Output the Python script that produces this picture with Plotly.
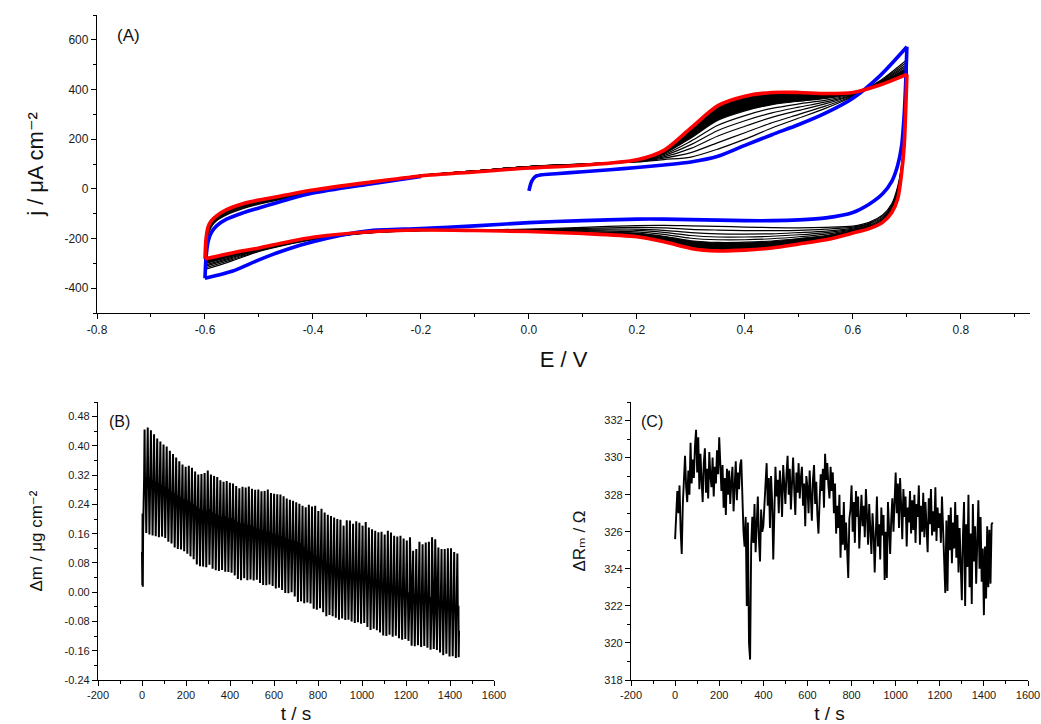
import plotly.graph_objects as go

W, H = 1041, 724
FONT = "Liberation Sans, Arial, DejaVu Sans, sans-serif"

# ---------------- Panel A : cyclic voltammograms ----------------
E_FWD = [-0.6, -0.598, -0.594, -0.588, -0.578, -0.56, -0.53, -0.5, -0.45, -0.4, -0.3, -0.2, -0.1,
         0.0, 0.1, 0.2, 0.25, 0.3, 0.35, 0.4, 0.45, 0.5, 0.55, 0.6, 0.65, 0.7]
E_REV = [0.7, 0.698, 0.695, 0.69, 0.683, 0.672, 0.655, 0.63, 0.6, 0.55, 0.5, 0.45, 0.4, 0.35, 0.3,
         0.25, 0.2, 0.1, 0.0, -0.1, -0.2, -0.3, -0.4, -0.45, -0.5, -0.55, -0.6]

RED_FWD = [-282, -200, -152, -128, -108, -84, -60, -45, -25, -5, 25, 52, 68, 84, 95, 117, 155, 245,
           335, 373, 388, 388, 384, 388, 418, 461]
RED_REV = [461, 330, 175, 60, -40, -95, -135, -160, -178, -205, -222, -238, -247, -250, -240, -213,
           -193, -180, -172, -168, -166, -174, -195, -215, -238, -258, -282]

BLUE_E1 = [0.0, 0.005, 0.012, 0.025, 0.05, 0.1, 0.15, 0.2, 0.25, 0.3, 0.35, 0.4, 0.45, 0.5, 0.55,
           0.6, 0.65, 0.7]
BLUE_J1 = [-8, 30, 50, 57, 61, 69, 77, 86, 96, 108, 131, 175, 218, 259, 306, 365, 455, 572]
BLUE_REV = [572, 440, 300, 170, 95, 30, -20, -62, -95, -117, -125, -128, -128, -126, -124, -122,
            -122, -128, -136, -149, -160, -170, -213, -245, -286, -332, -360]
BLUE_J3 = [-360, -275, -210, -175, -148, -122, -97, -77, -45, -17, 18, 50]  # on E_FWD[:12]

CYC2_FWD = [-325, -240, -185, -152, -128, -105, -80, -62, -38, -15, 20, 54, 72, 90, 100, 108, 118,
            128, 160, 200, 245, 285, 325, 372, 435, 520]
CYC3_FWD = [-319, -234, -180, -148, -125, -102, -77, -59, -36, -14, 21, 54, 72, 90, 100, 109, 124,
            146, 186, 226, 266, 300, 334, 374, 432, 511]
CYC4_FWD = [-312, -228, -175, -145, -122, -99, -74, -57, -34, -12, 22, 54, 72, 90, 100, 111, 129,
            163, 213, 252, 288, 316, 343, 377, 430, 502]
CYC5_FWD = [-307, -223, -171, -142, -119, -96, -71, -55, -32, -11, 22, 54, 72, 90, 100, 112, 134,
            178, 235, 274, 306, 329, 350, 379, 428, 495]
CYC6_FWD = [-301, -218, -167, -139, -117, -93, -69, -53, -31, -10, 23, 54, 72, 90, 100, 113, 138,
            192, 256, 295, 324, 342, 357, 381, 426, 488]
CYC7_FWD = [-297, -214, -163, -136, -115, -91, -67, -51, -29, -8, 23, 54, 72, 90, 100, 114, 142,
            205, 276, 314, 339, 353, 364, 383, 424, 481]

CYC2_REV = [520, 380, 220, 95, 10, -60, -105, -135, -150, -155, -157, -156, -154, -151, -149, -147,
            -148, -155, -162, -166, -168, -178, -205, -226, -252, -290, -325]
CYC3_REV = [511, 372, 213, 90, 2, -65, -109, -139, -154, -162, -167, -168, -168, -166, -163, -157,
            -155, -159, -164, -166, -168, -177, -204, -224, -250, -285, -319]
CYC4_REV = [502, 365, 206, 84, -5, -70, -114, -142, -158, -170, -176, -181, -182, -181, -176, -167,
            -162, -163, -165, -167, -167, -177, -202, -223, -248, -280, -312]
CYC5_REV = [495, 358, 201, 80, -11, -75, -118, -146, -162, -176, -185, -191, -194, -194, -188, -175,
            -167, -166, -166, -167, -167, -176, -201, -221, -246, -276, -307]
CYC6_REV = [488, 352, 195, 76, -17, -79, -121, -149, -165, -182, -193, -201, -205, -205, -199, -183,
            -173, -169, -168, -167, -167, -176, -200, -220, -244, -272, -301]
CYC7_REV = [481, 347, 190, 72, -23, -83, -125, -152, -168, -188, -200, -210, -215, -216, -209, -191,
            -178, -172, -169, -167, -167, -175, -198, -219, -243, -269, -297]

# ---------------- Panel B : mass change (per CV cycle) ----------------
B_T_START = [0.0, 0.8, 1.6, 2.6, 3.6]
B_M_START = [0.11, 0.025, 0.02, 0.215, 0.015]
B_CYCLE_T0 = 5.0
B_PERIOD = 14.36
B_PEAK = [0.445, 0.450, 0.443, 0.432, 0.420, 0.412, 0.404, 0.398, 0.387, 0.378,
          0.368, 0.358, 0.349, 0.343, 0.346, 0.340, 0.330, 0.322, 0.323, 0.326,
          0.333, 0.322, 0.318, 0.315, 0.306, 0.302, 0.304, 0.299, 0.297, 0.290,
          0.284, 0.288, 0.286, 0.289, 0.283, 0.280, 0.281, 0.276, 0.277, 0.281,
          0.271, 0.269, 0.268, 0.267, 0.262, 0.256, 0.253, 0.250, 0.246, 0.242,
          0.236, 0.232, 0.239, 0.234, 0.236, 0.222, 0.228, 0.218, 0.212, 0.208,
          0.204, 0.200, 0.198, 0.182, 0.197, 0.196, 0.187, 0.194, 0.190, 0.182,
          0.192, 0.177, 0.172, 0.168, 0.164, 0.165, 0.158, 0.168, 0.163, 0.154,
          0.152, 0.154, 0.147, 0.141, 0.150, 0.113, 0.118, 0.138, 0.131, 0.136,
          0.138, 0.150, 0.145, 0.122, 0.118, 0.118, 0.120, 0.120, 0.110, 0.106]
B_PLATEAU = [0.31, 0.31, 0.305, 0.30, 0.295, 0.29, 0.285, 0.28, 0.272, 0.268,
             0.262, 0.258, 0.252, 0.248, 0.244, 0.238, 0.232, 0.226, 0.222, 0.22,
             0.224, 0.216, 0.212, 0.208, 0.204, 0.205, 0.20, 0.20, 0.196, 0.19,
             0.186, 0.185, 0.182, 0.18, 0.176, 0.172, 0.17, 0.166, 0.163, 0.162,
             0.158, 0.155, 0.152, 0.15, 0.146, 0.142, 0.14, 0.138, 0.135, 0.132,
             0.12, 0.11, 0.108, 0.10, 0.095, 0.09, 0.085, 0.078, 0.07, 0.066,
             0.06, 0.058, 0.055, 0.052, 0.05, 0.048, 0.046, 0.045, 0.044, 0.043,
             0.043, 0.038, 0.033, 0.03, 0.027, 0.022, 0.018, 0.015, 0.012, 0.008,
             0.005, 0.002, 0.0, -0.003, -0.006, -0.008, -0.01, -0.012, -0.013, -0.014,
             -0.015, -0.018, -0.02, -0.024, -0.028, -0.03, -0.033, -0.036, -0.038, -0.04]
B_TROUGH = [0.165, 0.162, 0.158, 0.155, 0.153, 0.150, 0.152, 0.148, 0.138, 0.133,
            0.122, 0.118, 0.117, 0.112, 0.105, 0.098, 0.090, 0.076, 0.071, 0.070,
            0.068, 0.075, 0.064, 0.060, 0.058, 0.061, 0.056, 0.055, 0.053, 0.046,
            0.036, 0.033, 0.038, 0.033, 0.035, 0.032, 0.034, 0.025, 0.020, 0.019,
            0.021, 0.017, 0.010, 0.012, 0.006, -0.002, -0.003, 0.000, -0.012, -0.027,
            -0.025, -0.030, -0.028, -0.031, -0.045, -0.048, -0.044, -0.055, -0.066, -0.062,
            -0.066, -0.070, -0.075, -0.072, -0.076, -0.075, -0.080, -0.084, -0.082, -0.086,
            -0.084, -0.095, -0.103, -0.100, -0.104, -0.110, -0.118, -0.120, -0.116, -0.122,
            -0.119, -0.126, -0.130, -0.128, -0.133, -0.146, -0.148, -0.145, -0.150, -0.147,
            -0.152, -0.157, -0.155, -0.158, -0.165, -0.172, -0.168, -0.176, -0.175, -0.180]
B_T_END = [1439.5, 1441.0]
B_M_END = [-0.178, -0.105]

# ---------------- Panel C : motional resistance ----------------
C_T_STEP = 5
C_R = [
    325.6, 326.8, 328.2, 327.0, 328.5, 326.1, 324.8, 327.5, 329.0, 330.1, 328.4, 327.6, 329.3, 328.0, 330.8, 328.6, 329.9, 328.9, 330.6, 331.5,
    329.2, 331.1, 328.3, 330.2, 328.8, 327.6, 329.7, 330.5, 328.1, 329.4, 327.8, 330.3, 329.0, 328.4, 330.0, 327.9, 329.5, 328.6, 330.4, 329.1,
    331.1, 329.0, 328.2, 329.6, 327.3, 328.9, 326.9, 329.4, 328.0, 329.3, 327.5, 328.7, 329.5, 327.1, 328.6, 329.8, 327.7, 329.2, 328.3, 329.6,
    329.9, 327.8, 326.0, 325.2, 326.8, 322.0, 326.5, 320.0, 319.1, 325.3, 326.8, 325.4, 327.5, 324.9, 326.1, 327.9, 325.6, 324.4, 327.2, 326.0,
    326.3, 327.8, 328.6, 329.7, 327.4, 328.9, 326.2, 329.0, 327.6, 324.5, 328.2, 329.5, 327.9, 328.8, 327.0, 329.3, 328.4, 326.8, 329.6, 328.2,
    327.5, 329.1, 330.1, 328.0, 329.4, 327.2, 328.7, 330.0, 328.3, 326.9, 329.2, 328.1, 329.7, 327.8, 328.9, 329.5, 327.4, 328.6, 326.3, 329.0,
    328.4, 327.0, 329.3, 328.1, 326.6, 328.8, 329.6, 327.5, 328.7, 326.9, 325.9, 327.6, 329.1, 328.2, 329.4, 327.3, 330.2, 328.8, 329.7, 328.5,
    327.8, 329.5, 328.2, 329.2, 327.0, 328.6, 325.9, 327.4, 326.2, 328.0, 324.6, 326.9, 325.3, 327.6, 325.0, 326.5, 324.8, 323.5, 326.7, 327.2,
    328.5, 326.0, 327.6, 325.4, 328.2, 326.8, 327.9, 325.1, 326.6, 328.0, 326.3, 327.4, 325.7, 328.3, 326.9, 325.3, 327.5, 326.1, 324.8, 327.0,
    325.9, 323.8, 326.8, 327.9, 325.2, 326.4, 324.5, 327.3, 325.8, 326.9, 323.4, 326.0, 323.5, 327.6, 326.2, 324.8, 326.7, 327.8, 326.0, 328.1,
    329.2, 327.0, 328.6, 326.2, 328.9, 327.4, 325.6, 328.3, 326.8, 327.9, 325.2, 327.3, 326.5, 328.2, 325.9, 327.7, 326.1, 328.0, 325.4, 327.5,
    326.8, 328.5, 325.3, 327.4, 326.0, 328.1, 325.7, 327.6, 326.3, 324.9, 327.8, 326.4, 328.3, 325.8, 327.1, 326.0, 328.4, 325.5, 327.3, 326.2,
    327.0, 325.4, 327.9, 326.0, 324.3, 322.7, 326.6, 322.8, 326.9, 325.0, 327.3, 324.3, 326.5, 325.1, 327.6, 324.6, 326.9, 323.8, 326.2, 324.4,
    322.3, 325.8, 327.6, 322.0, 326.4, 324.1, 328.0, 323.0, 325.9, 322.1, 327.5, 324.4, 326.3, 323.2, 325.6, 327.7, 324.0, 326.8, 323.3, 325.1,
    321.5, 325.2, 322.4, 326.3, 323.0, 326.1, 323.2, 326.4, 326.5,
]

# ---------------- tick values / labels ----------------
A_X_TICKS = [-0.8, -0.6, -0.4, -0.2, 0.0, 0.2, 0.4, 0.6, 0.8]
A_X_LABELS = ["-0.8", "-0.6", "-0.4", "-0.2", "0.0", "0.2", "0.4", "0.6", "0.8"]
A_Y_TICKS = [-400, -200, 0, 200, 400, 600]
A_Y_LABELS = ["-400", "-200", "0", "200", "400", "600"]
T_TICKS = [-200, 0, 200, 400, 600, 800, 1000, 1200, 1400, 1600]
T_LABELS = ["-200", "0", "200", "400", "600", "800", "1000", "1200", "1400", "1600"]
B_Y_TICKS = [-0.24, -0.16, -0.08, 0.0, 0.08, 0.16, 0.24, 0.32, 0.40, 0.48]
B_Y_LABELS = ["-0.24", "-0.16", "-0.08", "0.00", "0.08", "0.16", "0.24", "0.32", "0.40", "0.48"]
C_Y_TICKS = [318, 320, 322, 324, 326, 328, 330, 332]
C_Y_LABELS = ["318", "320", "322", "324", "326", "328", "330", "332"]

# ================= build figure =================
fig = go.Figure()

BLACK_FWD = [CYC2_FWD, CYC3_FWD, CYC4_FWD, CYC5_FWD, CYC6_FWD, CYC7_FWD]
BLACK_REV = [CYC2_REV, CYC3_REV, CYC4_REV, CYC5_REV, CYC6_REV, CYC7_REV]


def line(x, y, color, width, xa="x", ya="y", shape="spline"):
    fig.add_trace(go.Scatter(x=x, y=y, mode="lines", xaxis=xa, yaxis=ya,
                             line=dict(color=color, width=width, shape=shape, smoothing=0.8),
                             showlegend=False, hoverinfo="skip"))


# dense black band between the last black cycle and the red cycle
fig.add_trace(go.Scatter(x=E_FWD + E_FWD[::-1], y=CYC7_FWD + RED_FWD[::-1], mode="lines",
                         fill="toself", fillcolor="black",
                         line=dict(width=0, shape="spline", smoothing=0.8),
                         showlegend=False, hoverinfo="skip"))
fig.add_trace(go.Scatter(x=E_REV + E_REV[::-1], y=CYC7_REV + RED_REV[::-1], mode="lines",
                         fill="toself", fillcolor="black",
                         line=dict(width=0, shape="spline", smoothing=0.8),
                         showlegend=False, hoverinfo="skip"))
for yf, yr in zip(BLACK_FWD, BLACK_REV):
    line(E_FWD, yf, "black", 1.2)
    line(E_REV, yr, "black", 1.2)

line(BLUE_E1, BLUE_J1, "#0000ff", 3.6)
line(E_REV, BLUE_REV, "#0000ff", 3.6)
line(E_FWD[:len(BLUE_J3)], BLUE_J3, "#0000ff", 3.6)
line(E_FWD, RED_FWD, "#ff0000", 3.6)
line(E_REV, RED_REV, "#ff0000", 3.6)

# Panel B
t_b = list(B_T_START)
m_b = list(B_M_START)
for i in range(len(B_PEAK)):
    t0 = B_CYCLE_T0 + i * B_PERIOD
    t_b += [t0, t0 + 0.32 * B_PERIOD, t0 + 0.47 * B_PERIOD, t0 + 0.60 * B_PERIOD, t0 + 0.82 * B_PERIOD]
    m_b += [B_TROUGH[i], B_PLATEAU[i], B_PEAK[i], B_PLATEAU[i], B_PLATEAU[i]]
t_b += B_T_END
m_b += B_M_END
line(t_b, m_b, "black", 2.0, "x2", "y2", "linear")

# Panel C
t_c = [i * C_T_STEP for i in range(len(C_R))]
line(t_c, C_R, "black", 1.9, "x3", "y3", "linear")


def px(x):
    return x / W


def py(y):
    return 1 - y / H


def axis(domain, rng, tickvals, ticktext, minor_tick0, minor_dtick, anchor, tsize, title, tfont, standoff):
    return dict(domain=domain, range=rng, tickmode="array", tickvals=tickvals, ticktext=ticktext,
                anchor=anchor, showline=True, linecolor="black", linewidth=1.3, mirror=False,
                showgrid=False, zeroline=False, ticks="outside", ticklen=5, tickwidth=1.1,
                tickcolor="black", tickfont=dict(family=FONT, size=tsize, color="#1a1a1a"),
                minor=dict(tickmode="linear", tick0=minor_tick0, dtick=minor_dtick, ticklen=3,
                           ticks="outside", tickcolor="black", tickwidth=1, showgrid=False),
                title=dict(text=title, font=dict(family=FONT, size=tfont, color="#111111"),
                           standoff=standoff),
                automargin=False)


fig.update_layout(
    width=W, height=H, margin=dict(l=0, r=0, t=0, b=0),
    paper_bgcolor="white", plot_bgcolor="white", showlegend=False,
    xaxis=axis([px(97), px(1030)], [-0.8, 0.928], A_X_TICKS, A_X_LABELS, -0.8, 0.1, "y", 12,
               "E / V", 22, 16),
    yaxis=axis([py(313), py(15)], [-500, 700], A_Y_TICKS, A_Y_LABELS, -500, 100, "x", 12,
               "j / μA cm⁻²", 22, 14),
    xaxis2=axis([px(98), px(494)], [-200, 1600], T_TICKS, T_LABELS, -200, 100, "y2", 11,
                "t / s", 19, 6),
    yaxis2=axis([py(680), py(402)], [-0.24, 0.52], B_Y_TICKS, B_Y_LABELS, -0.24, 0.04, "x2", 11,
                "Δm / μg cm⁻²", 17, 17),
    xaxis3=axis([px(631), px(1028)], [-200, 1600], T_TICKS, T_LABELS, -200, 100, "y3", 11,
                "t / s", 19, 6),
    yaxis3=axis([py(680), py(402)], [318, 333], C_Y_TICKS, C_Y_LABELS, 318, 1, "x3", 11,
                "ΔRₘ / Ω", 17, 14),
)


def ann(text, x, y, size):
    fig.add_annotation(text=text, x=px(x), y=py(y), xref="paper", yref="paper", showarrow=False,
                       xanchor="center", yanchor="middle",
                       font=dict(family=FONT, size=size, color="#111111"))


ann("(A)", 128, 35, 17)
ann("(B)", 119, 421, 16)
ann("(C)", 652, 421, 16)

fig.write_html("out.html")
